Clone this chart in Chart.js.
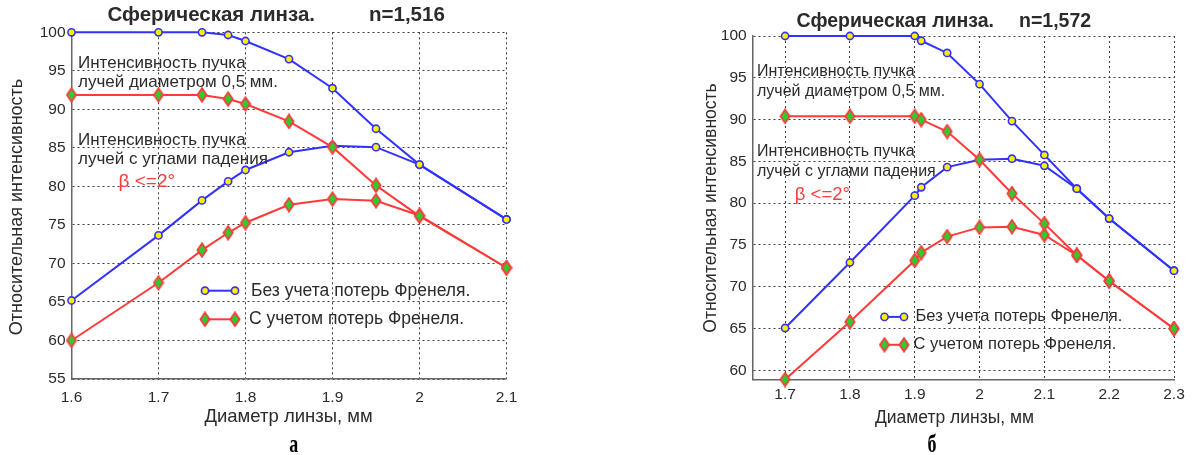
<!DOCTYPE html>
<html><head><meta charset="utf-8">
<script src="https://cdn.jsdelivr.net/npm/chart.js@4.4.1/dist/chart.umd.min.js"></script>
<style>
html,body{margin:0;padding:0;background:#fff;width:1192px;height:455px;overflow:hidden;}
.panel{position:absolute;top:0;height:455px;}
#pa{left:0;width:600px;}
#pb{left:690px;width:502px;}
</style></head><body>
<div class="panel" id="pa"><canvas id="ca"></canvas></div>
<div class="panel" id="pb"><canvas id="cb"></canvas></div>
<script>
// ---------- data: chart "а" (n=1,516) ----------
const xA = [1.6, 1.7, 1.75, 1.78, 1.8, 1.85, 1.9, 1.95, 2.0, 2.1];
const beamBlueA  = [100, 100, 100, 99.65, 98.87, 96.52, 92.74, 87.48, 82.83, 75.71];
const beamRedA   = [91.87, 91.87, 91.87, 91.35, 90.70, 88.43, 85.09, 80.13, 76.15, 69.44];
const angleBlueA = [65.19, 73.64, 78.18, 80.65, 82.13, 84.43, 85.26, 85.09, 82.83, 75.71];
const angleRedA  = [60.0, 67.49, 71.73, 73.98, 75.28, 77.62, 78.36, 78.14, 76.23, 69.44];
const xTicksA = [1.6, 1.7, 1.8, 1.9, 2.0, 2.1];
const xTickLabelsA = ['1.6', '1.7', '1.8', '1.9', '2', '2.1'];
const yTicksA = [55, 60, 65, 70, 75, 80, 85, 90, 95, 100];
const yTickLabelsA = ['55', '60', '65', '70', '75', '80', '85', '90', '95', '100'];

// ---------- data: chart "б" (n=1,572) ----------
const xB = [1.7, 1.8, 1.9, 1.91, 1.95, 2.0, 2.05, 2.1, 2.15, 2.2, 2.3];
const beamBlueB  = [100, 100, 100, 99.43, 97.97, 94.24, 89.82, 85.77, 81.73, 78.16, 71.92];
const beamRedB   = [90.39, 90.39, 90.39, 89.99, 88.57, 85.2, 81.15, 77.55, 73.76, 70.69, 64.98];
const angleBlueB = [65.06, 72.9, 80.9, 81.9, 84.31, 85.2, 85.32, 84.47, 81.73, 78.16, 71.92];
const angleRedB  = [58.9, 65.8, 73.14, 74.08, 76.0, 77.1, 77.18, 76.2, 73.76, 70.69, 64.98];
const xTicksB = [1.7, 1.8, 1.9, 2.0, 2.1, 2.2, 2.3];
const xTickLabelsB = ['1.7', '1.8', '1.9', '2', '2.1', '2.2', '2.3'];
const yTicksB = [60, 65, 70, 75, 80, 85, 90, 95, 100];
const yTickLabelsB = ['60', '65', '70', '75', '80', '85', '90', '95', '100'];

const seriesNames = ['Без учета потерь Френеля.', 'С учетом потерь Френеля.'];
const noteBeam = ['Интенсивность пучка', 'лучей диаметром 0,5 мм.'];
const noteAngle = ['Интенсивность пучка', 'лучей с углами падения'];
const noteBeta = 'β <=2°';
const titleMain = 'Сферическая линза.';
const titleN = ['n=1,516', 'n=1,572'];
const xTitle = 'Диаметр линзы, мм';
const yTitle = 'Относительная интенсивность';
const subLabels = ['а', 'б'];

// ---------- styles ----------
const BLUE = '#3232ff', YELLOW = '#ffee00', RED = '#ff3a3a', GREEN = '#2fcc2f';
const TXT = '#2b2b2b';
const FONT = '"Liberation Sans", Arial, sans-serif';

function makeDiamond() {
  const c = document.createElement('canvas');
  c.width = 12; c.height = 16;
  const g = c.getContext('2d');
  g.beginPath();
  g.moveTo(6, 1.3); g.lineTo(10.6, 8); g.lineTo(6, 14.7); g.lineTo(1.4, 8); g.closePath();
  g.fillStyle = GREEN; g.fill();
  g.lineWidth = 1.8; g.strokeStyle = RED; g.stroke();
  return c;
}
const DIAMOND = makeDiamond();

function pts(xs, ys) { return xs.map((x, i) => ({x: x, y: ys[i]})); }

function blueDs(xs, ys) {
  return {data: pts(xs, ys), showLine: true, borderColor: BLUE, borderWidth: 2,
    pointStyle: 'circle', pointRadius: 3.6, pointBorderWidth: 1.6,
    pointBorderColor: BLUE, pointBackgroundColor: YELLOW, clip: false, tension: 0};
}
function redDs(xs, ys) {
  return {data: pts(xs, ys), showLine: true, borderColor: RED, borderWidth: 2,
    pointStyle: DIAMOND, pointRadius: 6, clip: false, tension: 0};
}

function txt(ctx, s, x, y, font, color, align) {
  ctx.font = font; ctx.fillStyle = color; ctx.textAlign = align || 'left';
  ctx.textBaseline = 'middle'; ctx.fillText(s, x, y);
}

function decoPlugin(d) {
  return {
    id: 'deco',
    afterDraw(chart) {
      const ctx = chart.ctx;
      ctx.save();
      // titles
      txt(ctx, titleMain, d.t1x, d.ty, 'bold ' + d.tSize + 'px ' + FONT, TXT);
      txt(ctx, d.n, d.t2x, d.ty, 'bold ' + d.tSize + 'px ' + FONT, TXT);
      // notes
      const nf = d.nSize + 'px ' + FONT;
      txt(ctx, noteBeam[0], d.nx, d.ny[0], nf, TXT);
      txt(ctx, noteBeam[1], d.nx, d.ny[1], nf, TXT);
      txt(ctx, noteAngle[0], d.nx, d.ny[2], nf, TXT);
      txt(ctx, noteAngle[1], d.nx, d.ny[3], nf, TXT);
      txt(ctx, noteBeta, d.bx, d.by, d.bSize + 'px ' + FONT, RED);
      // legend
      const [m1, m2] = d.lmx;
      ctx.lineWidth = 2;
      ctx.strokeStyle = BLUE;
      ctx.beginPath(); ctx.moveTo(m1, d.ly[0]); ctx.lineTo(m2, d.ly[0]); ctx.stroke();
      [m1, m2].forEach(mx => {
        ctx.beginPath(); ctx.arc(mx, d.ly[0], 3.6, 0, Math.PI * 2);
        ctx.fillStyle = YELLOW; ctx.fill(); ctx.lineWidth = 1.6; ctx.strokeStyle = BLUE; ctx.stroke();
      });
      ctx.lineWidth = 2; ctx.strokeStyle = RED;
      ctx.beginPath(); ctx.moveTo(m1, d.ly[1]); ctx.lineTo(m2, d.ly[1]); ctx.stroke();
      [m1, m2].forEach(mx => ctx.drawImage(DIAMOND, mx - 6, d.ly[1] - 8));
      const lf = d.lSize + 'px ' + FONT;
      txt(ctx, seriesNames[0], d.ltx, d.ly[0], lf, TXT);
      txt(ctx, seriesNames[1], d.ltx - 2, d.ly[1], lf, TXT);
      // axis titles
      txt(ctx, xTitle, d.xtx, d.xty, d.xtSize + 'px ' + FONT, TXT, 'center');
      ctx.save();
      ctx.translate(d.ytx, d.yty); ctx.rotate(-Math.PI / 2);
      txt(ctx, yTitle, 0, 0, d.ytSize + 'px ' + FONT, TXT, 'center');
      ctx.restore();
      // sub label
      ctx.save();
      ctx.translate(d.sx, d.sy); ctx.scale(1, 1.35);
      ctx.font = 'bold 18px "Liberation Serif", "Times New Roman", serif';
      ctx.fillStyle = '#000'; ctx.textAlign = 'center'; ctx.textBaseline = 'alphabetic';
      ctx.fillText(d.sub, 0, 0);
      ctx.restore();
      ctx.restore();
    }
  };
}

function makeChart(id, cfg) {
  const tickFont = {family: FONT, size: 15.5};
  return new Chart(document.getElementById(id), {
    type: 'scatter',
    data: {datasets: [
      redDs(cfg.x, cfg.beamRed), redDs(cfg.x, cfg.angleRed),
      blueDs(cfg.x, cfg.beamBlue), blueDs(cfg.x, cfg.angleBlue)
    ]},
    options: {
      responsive: true, maintainAspectRatio: false, animation: false,
      devicePixelRatio: 1,
      layout: {padding: {top: cfg.padTop, right: cfg.padRight, left: 0, bottom: 0}},
      plugins: {legend: {display: false}, tooltip: {enabled: false}, title: {display: false}},
      scales: {
        x: {
          type: 'linear', min: cfg.xMin, max: cfg.xMax,
          afterBuildTicks: s => { s.ticks = cfg.xTicks.map(v => ({value: v})); },
          afterFit: s => { s.height = cfg.xH; },
          ticks: {autoSkip: false, maxRotation: 0, color: TXT, font: tickFont, padding: cfg.xPad,
            callback: (v, i) => cfg.xLabels[i]},
          grid: {color: '#3a3a3a', lineWidth: 1, drawTicks: false},
          border: {display: true, color: '#666', width: 1.5, dash: [2, 3]}
        },
        y: {
          type: 'linear', min: cfg.yMin, max: cfg.yMax,
          afterBuildTicks: s => { s.ticks = cfg.yTicks.map(v => ({value: v})); },
          afterFit: s => { s.width = cfg.yW; },
          ticks: {autoSkip: false, color: TXT, font: tickFont, padding: 6,
            callback: (v, i) => cfg.yLabels[i]},
          grid: {color: '#3a3a3a', lineWidth: 1, drawTicks: false},
          border: {display: true, color: '#666', width: 1.5, dash: [2, 3]}
        }
      }
    },
    plugins: [decoPlugin(cfg.deco)]
  });
}

makeChart('ca', {
  x: xA, beamBlue: beamBlueA, beamRed: beamRedA, angleBlue: angleBlueA, angleRed: angleRedA,
  xMin: 1.6, xMax: 2.1, yMin: 55, yMax: 100,
  xTicks: xTicksA, xLabels: xTickLabelsA, yTicks: yTicksA, yLabels: yTickLabelsA,
  padTop: 32.3, padRight: 93.5, xH: 76, yW: 71.5, xPad: 9,
  deco: {n: titleN[0], t1x: 107.5, t2x: 369, ty: 15.5, tSize: 20.5,
    nx: 78, ny: [63.5, 82.4, 140.2, 159], nSize: 17,
    bx: 118.5, by: 181.4, bSize: 19,
    lmx: [205, 235], ly: [290.7, 319.3], ltx: 251, lSize: 17.5,
    xtx: 288.6, xty: 417, xtSize: 18.5,
    ytx: 17, yty: 207, ytSize: 18,
    sub: subLabels[0], sx: 293.7, sy: 452}
});

makeChart('cb', {
  x: xB, beamBlue: beamBlueB, beamRed: beamRedB, angleBlue: angleBlueB, angleRed: angleRedB,
  xMin: 1.65, xMax: 2.3, yMin: 58.9, yMax: 100,
  xTicks: xTicksB, xLabels: xTickLabelsB, yTicks: yTicksB, yLabels: yTickLabelsB,
  padTop: 36, padRight: 18, xH: 75.5, yW: 62.7, xPad: 6,
  deco: {n: titleN[1], t1x: 106.6, t2x: 329, ty: 21.4, tSize: 19.5,
    nx: 67, ny: [71.4, 91.4, 151.7, 171.4], nSize: 16,
    bx: 104.8, by: 195, bSize: 18.5,
    lmx: [194.5, 214], ly: [316.9, 344.8], ltx: 225.5, lSize: 16.5,
    xtx: 264.5, xty: 418, xtSize: 17.5,
    ytx: 21, yty: 208, ytSize: 17.5,
    sub: subLabels[1], sx: 242, sy: 452}
});
</script>
</body></html>
